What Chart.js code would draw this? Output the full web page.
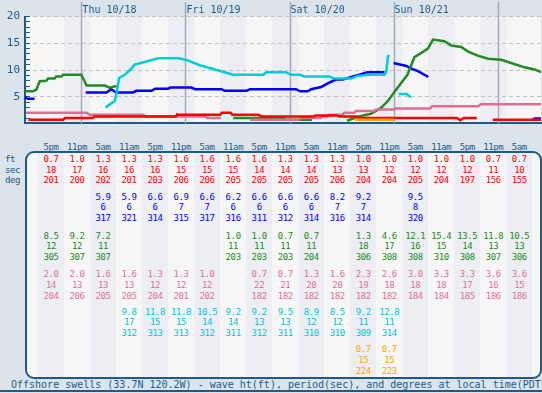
<!DOCTYPE html>
<html>
<head>
<meta charset="utf-8">
<script src="https://cdn.jsdelivr.net/npm/chart.js@4/dist/chart.umd.min.js"></script>
<style>
  body { margin: 0; background: #dbe3eb; width: 542px; height: 393px; overflow: hidden; position: relative; font-family: 'DejaVu Sans Mono', monospace; }
  #chartBox { position: absolute; left: 0; top: 0; width: 542px; height: 140px; }
  .t { position: absolute; white-space: nowrap; line-height: 1; transform: translate(-50%, -50%); font-size: 9px; letter-spacing: -0.4px; }
  #frame { position: absolute; left: 25px; top: 151px; width: 517px; height: 228px; box-sizing: border-box; border: 2px solid #1d5a8a; border-radius: 9px; background: #f6f6f6; overflow: hidden; }
  .stripe { position: absolute; top: 0; height: 100%; background: #eceef3; }
  #caption { position: absolute; left: 0; top: 379px; width: 542px; height: 13px; border-bottom: 2px solid #1d5a8a; box-sizing: border-box; color: #1d5a8a; font-size: 10px; line-height: 12px; padding-left: 11px; white-space: nowrap; overflow: hidden; }
</style>
</head>
<body>
<div id="chartBox"><canvas id="swellChart" width="542" height="140"></canvas></div>
<div id="frame"></div>
<div id="caption">Offshore swells (33.7N 120.2W) - wave ht(ft), period(sec), and degrees at local time(PDT)</div>
<script>
// hours counted from Thu 10/18 00:00 PDT
const dayHours = [0, 24, 48, 72, 96];
const dayLabels = ['Thu 10/18', 'Fri 10/19', 'Sat 10/20', 'Sun 10/21', ''];

const colHours = [-7, -1, 5, 11, 17, 23, 29, 35, 41, 47, 53, 59, 65, 71, 77, 83, 89, 95, 101];
const colLabels = ['5pm', '11pm', '5am', '11am', '5pm', '11pm', '5am', '11am', '5pm', '11pm',
  '5am', '11am', '5pm', '11pm', '5am', '11am', '5pm', '11pm', '5am'];

// swell height lines (ft)
const redHours = [-12.2, -4.2, -3.8, 2.6, 3.0, 21.8, 22.1, 22.5, 23.0, 32.0, 32.4, 34.4, 34.8, 40.8, 41.6, 53.6, 54.0, 59.0, 59.4, 63.4, 63.8, 86.6, 87.4, 88.2, 91.2, 93.0, 94.9, 106];
const redHt = [0.7, 0.7, 1.0, 1.0, 1.3, 1.3, 1.7, 1.6, 1.6, 1.6, 2.0, 2.0, 1.6, 1.6, 1.3, 1.3, 1.5, 1.5, 1.3, 1.3, 1.0, 1.0, 0.6, 1.0, 1.0, null, 0.7, 0.7];

const pinkHours = [-12.7, 1.2, 1.9, 14.2, 15.0, 28.5, 29.0, 32.2, 35.0, 38.9, 50.1, 50.5, 55.2, 55.6, 56.7, 57.1, 60.2, 60.6, 62.9, 63.3, 67.5, 67.9, 72.1, 72.5, 80.4, 80.9, 91.6, 92.1, 106];
const pinkHt = [2.0, 2.0, 1.6, 1.6, 1.3, 1.3, 1.0, 1.0, null, 0.7, 0.7, 1.0, 1.0, 1.3, 1.3, 1.6, 1.6, 2.0, 2.0, 2.3, 2.3, 2.6, 2.6, 2.8, 2.8, 3.2, 3.2, 3.6, 3.6];

const greenHours = [-13, -11.2, -10.4, -9.6, -8.1, -7.7, -6.2, -5.8, -4.6, -4.2, 0, 1.2, 5.4, 6.5, 8.1, 20, 35, 46.7, 47.1, 53.2, 57, 61.3, 63.7, 66.8, 69.1, 70.7, 72.2, 73.7, 75.2, 76.8, 78.4, 79.9, 81.1, 83.7, 85.3, 87.6, 89.1, 91.4, 93.8, 96.8, 99.1, 102.2, 104.5, 106];
const greenHt = [6.0, 6.0, 6.3, 7.9, 8.0, 8.4, 8.4, 8.8, 8.8, 9.1, 9.1, 7.1, 7.1, 6.7, 7.0, null, 1.0, 1.0, 0.7, 0.7, null, 0.5, 1.25, 1.8, 2.9, 4.2, 5.9, 7.5, 9.1, 12.4, 13.2, 14.0, 15.7, 15.4, 14.6, 14.3, 13.5, 12.7, 12.1, 11.9, 11.3, 10.5, 10.1, 9.6];

const blueHours = [-13, -12.3, -10.8, -5, 1, 5.8, 6.9, 8.0, 11.9, 12.7, 16.2, 17.0, 20.0, 20.5, 25.4, 26.2, 32.3, 33.1, 38.1, 38.9, 49.5, 50.5, 52.2, 53.0, 55.3, 56.4, 57.6, 58.7, 60.3, 63.0, 64.1, 66.0, 69.9, 71, 72.0, 73.7, 74.8, 76.0, 77.6, 78.7, 80.0, 90, 103.9, 104.5, 106];
const blueHt = [4.9, 4.6, 4.6, null, 5.8, 5.8, 6.4, 5.8, 5.8, 6.1, 6.1, 6.5, 6.5, 6.7, 6.7, 6.4, 6.4, 6.1, 6.1, 6.4, 6.4, 6.0, 6.0, 6.4, 6.8, 7.3, 7.8, 8.2, 8.2, 8.9, 9.1, 9.6, 9.6, null, 11.3, 11.0, 10.8, 10.3, 9.8, 9.3, 8.7, null, 0.6, 0.9, 0.9];

const cyanHours = [5.6, 7.7, 8.2, 8.7, 10.0, 11.2, 12.3, 15.0, 17.7, 22.3, 24.2, 27.3, 31.2, 35.0, 41.9, 42.7, 47.2, 48.3, 50.5, 51.4, 57.2, 58.3, 62.2, 63.7, 66.8, 69.9, 70.3, 70.7, 71.0, 72, 73.2, 75.0, 76.0];
const cyanHt = [3.0, 4.2, 6.0, 8.5, 9.1, 10.0, 11.0, 11.6, 12.2, 12.2, 11.9, 10.9, 10.0, 9.1, 9.1, 9.6, 9.6, 9.1, 9.1, 8.8, 8.8, 8.4, 8.4, 8.9, 9.1, 9.1, 9.6, 12.5, 12.8, null, 5.5, 5.5, 4.9];

const orangeHours = [63.1, 72.3];
const orangeHt = [0.7, 0.7];

// table values per column ('' = no swell in that train)
const redFt = ['0.7','1.0','1.3','1.3','1.3','1.6','1.6','1.6','1.6','1.3','1.3','1.3','1.0','1.0','1.0','1.0','1.0','0.7','0.7'];
const redSec = ['18','17','16','16','16','15','15','15','14','14','14','13','13','12','12','12','12','11','10'];
const redDeg = ['201','200','202','201','203','206','206','205','205','205','205','206','204','204','205','204','197','156','155'];

const blueFt = ['','','5.9','5.9','6.6','6.9','6.6','6.2','6.6','6.6','6.6','8.2','9.2','','9.5','','','',''];
const blueSec = ['','','6','6','6','7','7','6','6','6','6','7','7','','8','','','',''];
const blueDeg = ['','','317','321','314','315','317','316','311','312','314','316','314','','320','','','',''];

const greenFt = ['8.5','9.2','7.2','','','','','1.0','1.0','0.7','0.7','','1.3','4.6','12.1','15.4','13.5','11.8','10.5'];
const greenSec = ['12','12','11','','','','','11','11','11','11','','18','17','16','15','14','13','13'];
const greenDeg = ['305','307','307','','','','','203','203','203','204','','306','308','308','310','308','307','306'];

const pinkFt = ['2.0','2.0','1.6','1.6','1.3','1.3','1.0','','0.7','0.7','1.3','1.6','2.3','2.6','3.0','3.3','3.3','3.6','3.6'];
const pinkSec = ['14','13','13','13','12','12','12','','22','21','20','20','19','18','18','18','17','16','15'];
const pinkDeg = ['204','206','205','205','204','201','202','','182','182','182','182','182','182','184','184','185','186','186'];

const cyanFt = ['','','','9.8','11.8','11.8','10.5','9.2','9.2','9.5','8.9','8.5','9.2','12.8','','','','',''];
const cyanSec = ['','','','17','15','15','14','14','13','13','12','12','11','11','','','','',''];
const cyanDeg = ['','','','312','313','313','312','311','312','311','310','310','309','314','','','','',''];

const orangeFt = ['','','','','','','','','','','','','0.7','0.7','','','','',''];
const orangeSec = ['','','','','','','','','','','','','15','15','','','','',''];
const orangeDeg = ['','','','','','','','','','','','','224','223','','','','',''];

const navy = '#1d5a8a';
const bandDark = '#eceef3';

function pts(hours, ht) {
  return hours.map((h, i) => ({ x: h, y: ht[i] }));
}

function line(label, hours, ht, color) {
  return { label, data: pts(hours, ht), borderColor: color, backgroundColor: color, borderWidth: 2.5, pointRadius: 0, tension: 0, spanGaps: false };
}

// background bands + midnight lines
const bandsPlugin = {
  id: 'bands',
  beforeDraw(chart) {
    const { ctx, chartArea: a, scales: { x } } = chart;
    ctx.save();
    ctx.fillStyle = '#f6f6f6';
    ctx.fillRect(a.left, a.top, a.right - a.left, a.bottom - a.top);
    ctx.fillStyle = bandDark;
    colHours.forEach((h, i) => {
      if (i % 2 === 1) {
        const x0 = Math.max(a.left, x.getPixelForValue(h - 3));
        const x1 = Math.min(a.right, x.getPixelForValue(h + 3));
        ctx.fillRect(x0, a.top, x1 - x0, a.bottom - a.top);
      }
    });
    ctx.restore();
  },
  beforeDatasetsDraw(chart) {
    const { ctx, chartArea: a, scales: { x } } = chart;
    ctx.save();
    ctx.strokeStyle = '#a4abb5';
    ctx.lineWidth = 1.5;
    dayHours.forEach(h => {
      const px = Math.round(x.getPixelForValue(h)) + 0.5;
      ctx.beginPath();
      ctx.moveTo(px, 2);
      ctx.lineTo(px, a.bottom);
      ctx.stroke();
    });
    ctx.restore();
  }
};

const chart = new Chart(document.getElementById('swellChart'), {
  type: 'line',
  data: {
    datasets: [
      line('orange', orangeHours, orangeHt, '#ffa500'),
      line('red', redHours, redHt, '#ff0000'),
      line('pink', pinkHours, pinkHt, '#db7093'),
      line('green', greenHours, greenHt, '#228b22'),
      line('cyan', cyanHours, cyanHt, '#00ced1'),
      line('blue', blueHours, blueHt, '#0000ff')
    ]
  },
  options: {
    responsive: false,
    animation: false,
    devicePixelRatio: 1,
    layout: { padding: { right: 1, left: 0, top: 0, bottom: 0 } },
    plugins: { legend: { display: false }, tooltip: { enabled: false } },
    scales: {
      x: {
        type: 'linear', min: -13, max: 106, position: 'bottom',
        grid: { display: false, drawTicks: false },
        ticks: { display: false },
        border: { color: navy, width: 2 },
        afterFit: s => { s.height = 4; }
      },
      xTop: {
        type: 'linear', min: -13, max: 106, position: 'top',
        grid: { display: false, drawTicks: false },
        border: { display: false },
        afterBuildTicks: s => { s.ticks = dayHours.map(v => ({ value: v })); },
        ticks: {
          autoSkip: false, align: 'start', padding: 0, labelOffset: 1,
          color: navy, font: { family: 'DejaVu Sans Mono', size: 10 },
          callback: v => dayLabels[dayHours.indexOf(v)] || ''
        },
        afterFit: s => { s.height = 13; }
      },
      y: {
        min: 0, max: 20, position: 'left',
        ticks: {
          stepSize: 1, autoSkip: false, padding: 10, color: navy,
          font: { family: 'DejaVu Sans Mono', size: 11 },
          callback: v => (v > 0 && v % 5 === 0) ? v : ''
        },
        grid: {
          color: c => (c.tick && c.tick.value > 0 && c.tick.value % 5 === 0) ? '#c3c3c3' : 'rgba(0,0,0,0)',
          lineWidth: 1, tickLength: -5, tickColor: navy, tickWidth: 1
        },
        border: { color: navy, width: 2, dash: [4, 3] },
        afterFit: s => { s.width = 25; }
      }
    }
  },
  plugins: [bandsPlugin]
});

// table under the chart, columns placed with the chart's own x scale
const xs = chart.scales.x;
const frame = document.getElementById('frame');
const body = document.body;

function addText(parent, text, x, y, color) {
  if (!text) return;
  const d = document.createElement('div');
  d.className = 't';
  d.textContent = text;
  d.style.left = x + 'px';
  d.style.top = y + 'px';
  d.style.color = color;
  parent.appendChild(d);
}

colHours.forEach((h, i) => {
  const cx = xs.getPixelForValue(h);
  if (i % 2 === 0) {
    const s = document.createElement('div');
    s.className = 'stripe';
    s.style.left = (cx - 13 - 27) + 'px';
    s.style.width = '26px';
    frame.appendChild(s);
  }
  addText(body, colLabels[i], cx, 146.5, navy);
});

['ft', 'sec', 'deg'].forEach((t, k) => {
  const d = document.createElement('div');
  d.className = 't';
  d.textContent = t;
  d.style.transform = 'translate(0, -50%)';
  d.style.left = '5px';
  d.style.top = (159 + k * 10.6) + 'px';
  d.style.color = navy;
  body.appendChild(d);
});

const groups = [
  { y: 159, color: '#ff0000', rows: [redFt, redSec, redDeg] },
  { y: 196.7, color: '#0000ff', rows: [blueFt, blueSec, blueDeg] },
  { y: 235.7, color: '#228b22', rows: [greenFt, greenSec, greenDeg] },
  { y: 274.3, color: '#e0709a', rows: [pinkFt, pinkSec, pinkDeg] },
  { y: 311.7, color: '#00c8d0', rows: [cyanFt, cyanSec, cyanDeg] },
  { y: 349.3, color: '#ffa500', rows: [orangeFt, orangeSec, orangeDeg] }
];

groups.forEach(g => {
  g.rows.forEach((row, k) => {
    row.forEach((v, i) => {
      addText(body, v, xs.getPixelForValue(colHours[i]), g.y + k * 10.6, g.color);
    });
  });
});
</script>
</body>
</html>
